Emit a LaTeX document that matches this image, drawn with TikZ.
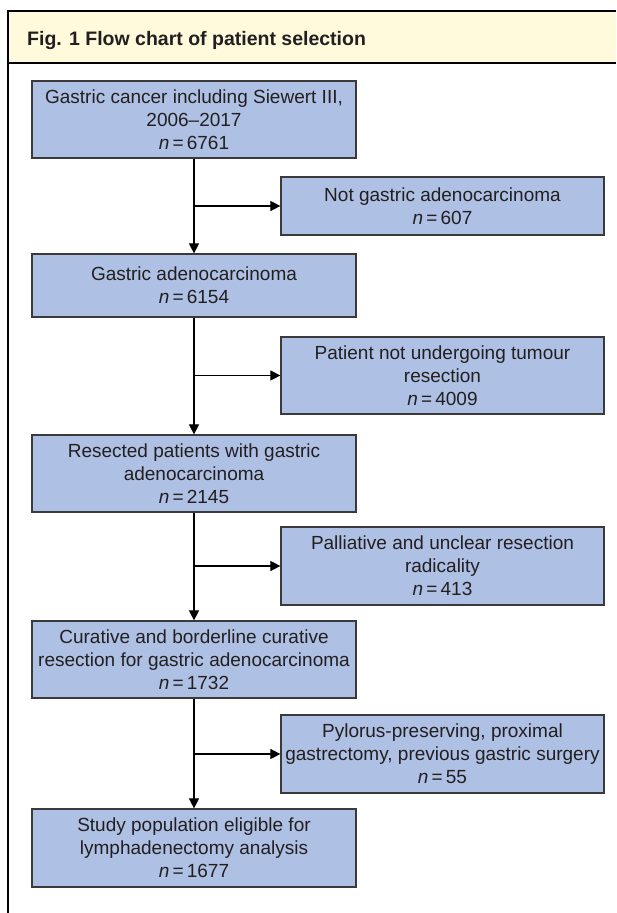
\documentclass[tikz,border=0pt]{standalone}
\usepackage{fontspec}
\setmainfont{Liberation Sans}
\usetikzlibrary{arrows.meta}
\definecolor{boxblue}{HTML}{AEC0E3}
\definecolor{hdr}{HTML}{FFFADC}
\definecolor{edge}{HTML}{3A3A3A}
\definecolor{txt}{HTML}{231F20}
\begin{document}
\begin{tikzpicture}[x=1pt,y=-1pt,
  mainbox/.style={draw=edge, line width=1.2pt, fill=boxblue, text=txt, align=center,
    font=\fontsize{19}{23}\selectfont, inner sep=0pt, minimum width=324pt},
  sidebox/.style={mainbox, minimum width=323pt},
  conn/.style={line width=1.1pt, draw=black},
  arr/.style={conn, -{Triangle[length=10pt,width=10pt]}}]
\useasboundingbox (0,0) rectangle (616,913);
\fill[hdr] (8,11) rectangle (616,63);
\draw[line width=1.1pt] (616,11) -- (8,11) -- (8,913);
\draw[line width=1.1pt] (8,63) -- (616,63);
\node[anchor=base west, inner sep=0pt, font=\bfseries\fontsize{19.5}{22}\selectfont, text=txt] (title) at (27,45) {Fig. 1 Flow chart of patient selection};

\node[mainbox, minimum height=77pt] (b1) at (194,119.5) {Gastric cancer including Siewert III,\\2006--2017\\\textit{n}\,=\,6761};
\node[sidebox, minimum height=58pt] (s1) at (442.5,206) {Not gastric adenocarcinoma\\\textit{n}\,=\,607};
\node[mainbox, minimum height=63pt] (b2) at (194,285.5) {Gastric adenocarcinoma\\\textit{n}\,=\,6154};
\node[sidebox, minimum height=77pt] (s2) at (442.5,375.5) {Patient not undergoing tumour\\resection\\\textit{n}\,=\,4009};
\node[mainbox, minimum height=77pt] (b3) at (194,473.5) {Resected patients with gastric\\adenocarcinoma\\\textit{n}\,=\,2145};
\node[sidebox, minimum height=78pt] (s3) at (442.5,566) {Palliative and unclear resection\\radicality\\\textit{n}\,=\,413};
\node[mainbox, minimum height=77pt] (b4) at (194,659.5) {Curative and borderline curative\\resection for gastric adenocarcinoma\\\textit{n}\,=\,1732};
\node[sidebox, minimum height=78pt] (s4) at (442.5,754) {Pylorus-preserving, proximal\\gastrectomy, previous gastric surgery\\\textit{n}\,=\,55};
\node[mainbox, minimum height=78pt] (b5) at (194,848) {Study population eligible for\\lymphadenectomy analysis\\\textit{n}\,=\,1677};

\coordinate (j1) at (b1.south |- s1.west);
\coordinate (j2) at (b2.south |- s2.west);
\coordinate (j3) at (b3.south |- s3.west);
\coordinate (j4) at (b4.south |- s4.west);

\draw[arr] (b1.south) -- (b2.north);
\draw[arr] (j1) -- (s1.west);
\draw[arr] (b2.south) -- (b3.north);
\draw[arr] (j2) -- (s2.west);
\draw[arr] (b3.south) -- (b4.north);
\draw[arr] (j3) -- (s3.west);
\draw[arr] (b4.south) -- (b5.north);
\draw[arr] (j4) -- (s4.west);
\end{tikzpicture}
\end{document}
